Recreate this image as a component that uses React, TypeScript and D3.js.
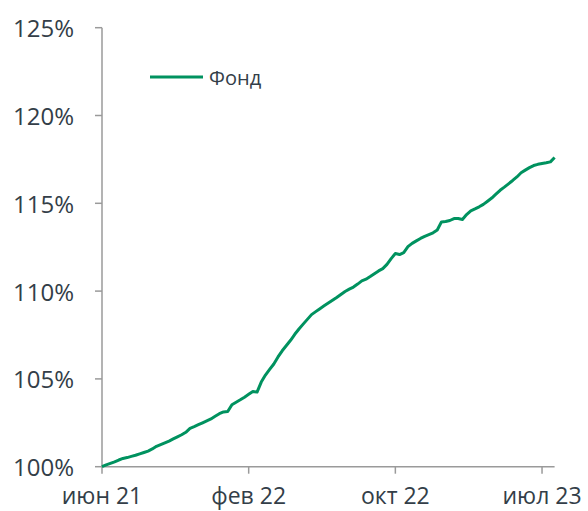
import * as d3 from "d3";

const WIDTH = 588;
const HEIGHT = 511;

// fund value, % of start (one point per week)
const fundValues = [
  100.0, 100.1, 100.19, 100.28, 100.38, 100.47, 100.52, 100.59, 100.65, 100.73,
  100.81, 100.89, 101.01, 101.16, 101.26, 101.36, 101.46, 101.58, 101.7, 101.82,
  101.96, 102.18, 102.28, 102.39, 102.5, 102.61, 102.72, 102.87, 103.02, 103.12,
  103.14, 103.53, 103.67, 103.81, 103.96, 104.12, 104.28, 104.25, 104.82, 105.22,
  105.54, 105.85, 106.25, 106.6, 106.9, 107.2, 107.54, 107.84, 108.12, 108.39,
  108.66, 108.83, 109.0, 109.16, 109.32, 109.48, 109.64, 109.81, 109.98, 110.11,
  110.23, 110.4, 110.58, 110.68, 110.83, 110.99, 111.15, 111.28, 111.52, 111.85,
  112.14, 112.08, 112.19, 112.53, 112.72, 112.86, 113.0, 113.12, 113.22, 113.32,
  113.48, 113.94, 113.96, 114.02, 114.13, 114.13, 114.08, 114.36, 114.57, 114.68,
  114.8, 114.94, 115.12, 115.3, 115.52, 115.74, 115.92, 116.11, 116.3, 116.5,
  116.74, 116.89, 117.03, 117.15, 117.22, 117.27, 117.31, 117.36, 117.61,
];

const xTickIndex = [0, 35, 70, 105];
const xTickLabels = ["июн 21", "фев 22", "окт 22", "июл 23"];
const yTicks = [100, 105, 110, 115, 120, 125];
const seriesName = "Фонд";

const LINE_COLOR = "#00925f";
const AXIS_COLOR = "#9a9a9a";
const TEXT_COLOR = "#333e48";
const FONT = "'Open Sans', 'DejaVu Sans', sans-serif";

export default function App() {
  const x = d3
    .scaleLinear()
    .domain([0, fundValues.length - 1])
    .range([102, 554.6]);
  const y = d3.scaleLinear().domain([100, 125]).range([466.7, 27.7]);

  const line = d3
    .line<number>()
    .x((_, i) => x(i))
    .y((d) => y(d));

  const x0 = x.range()[0];
  const y0 = y.range()[0];

  return (
    <svg
      width={WIDTH}
      height={HEIGHT}
      style={{ position: "absolute", left: 0, top: 0 }}
      fontFamily={FONT}
    >
      {/* y axis */}
      <line x1={x0} x2={x0} y1={y(125)} y2={y0} stroke={AXIS_COLOR} strokeWidth={1.5} />
      {yTicks.map((t) => (
        <g key={t}>
          <line x1={x0 - 7} x2={x0} y1={y(t)} y2={y(t)} stroke={AXIS_COLOR} strokeWidth={1.5} />
          <text
            x={74}
            y={y(t)}
            textAnchor="end"
            dominantBaseline="central"
            fontSize={24}
            fill={TEXT_COLOR}
          >
            {t}%
          </text>
        </g>
      ))}

      {/* x axis */}
      <line x1={x0} x2={x.range()[1]} y1={y0} y2={y0} stroke={AXIS_COLOR} strokeWidth={1.5} />
      {xTickIndex.map((idx, i) => (
        <g key={idx}>
          <line x1={x(idx)} x2={x(idx)} y1={y0} y2={y0 + 7} stroke={AXIS_COLOR} strokeWidth={1.5} />
          <text x={x(idx)} y={504} textAnchor="middle" fontSize={23} fill={TEXT_COLOR}>
            {xTickLabels[i]}
          </text>
        </g>
      ))}

      {/* series */}
      <path
        d={line(fundValues) ?? ""}
        fill="none"
        stroke={LINE_COLOR}
        strokeWidth={3}
        strokeLinejoin="round"
      />

      {/* legend */}
      <line x1={150} x2={203} y1={77} y2={77} stroke={LINE_COLOR} strokeWidth={3} />
      <text x={209} y={77} dominantBaseline="central" fontSize={20} fill={TEXT_COLOR}>
        {seriesName}
      </text>
    </svg>
  );
}
